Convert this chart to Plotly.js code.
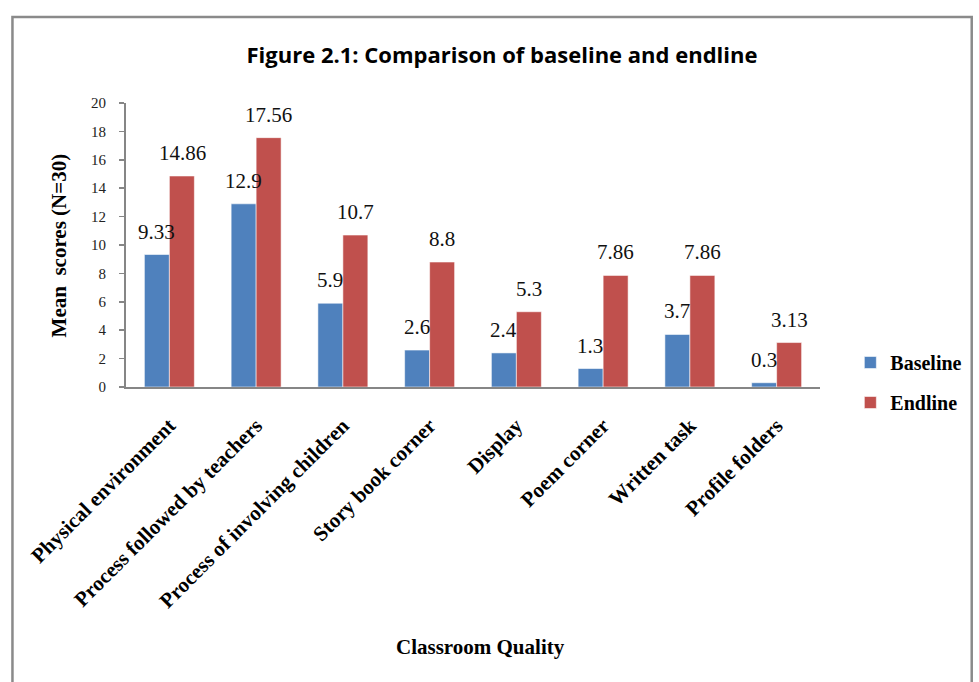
<!DOCTYPE html>
<html>
<head>
<meta charset="utf-8">
<script src="https://cdn.plot.ly/plotly-3.0.1.min.js"></script>
<style>
  html, body { margin: 0; padding: 0; background: #fff; }
  #chart { width: 979px; height: 682px; }
</style>
</head>
<body>
<div id="chart"></div>
<script>
// Classroom quality indicators and mean scores (N=30)
const categories = [
  "Physical environment",
  "Process followed by teachers",
  "Process of involving children",
  "Story book corner",
  "Display",
  "Poem corner",
  "Written task",
  "Profile folders"
];
const baseline = [9.33, 12.9, 5.9, 2.6, 2.4, 1.3, 3.7, 0.3];
const endline = [14.86, 17.56, 10.7, 8.8, 5.3, 7.86, 7.86, 3.13];
const yTicks = [0, 2, 4, 6, 8, 10, 12, 14, 16, 18, 20];

const serif = "Liberation Serif, Times New Roman, serif";
const blue = "#4F81BD";
const red = "#C0504D";

// Plot area in pixels
const W = 979, H = 682;
const L = 126, R = 144, T = 103, B = 295;
const plotW = W - L - R, plotH = H - T - B;
const bargap = 0.424;
const barPx = plotW / categories.length * (1 - bargap) / 2;

const traces = [
  {
    type: "bar", name: "Baseline", x: categories, y: baseline,
    marker: { color: blue, line: { color: "rgba(255,255,255,0.55)", width: 1 } },
    legendgroup: "b", hoverinfo: "skip"
  },
  {
    type: "bar", name: "Endline", x: categories, y: endline,
    marker: { color: red, line: { color: "rgba(255,255,255,0.55)", width: 1 } },
    legendgroup: "e", hoverinfo: "skip"
  }
];

// Value labels above each bar
const annotations = [];
categories.forEach((c, i) => {
  annotations.push({
    x: c, y: baseline[i], xref: "x", yref: "y", text: String(baseline[i]),
    showarrow: false, xshift: -barPx / 2, yshift: 9, yanchor: "bottom",
    font: { family: serif, size: 21, color: "#111" }
  });
  annotations.push({
    x: c, y: endline[i], xref: "x", yref: "y", text: String(endline[i]),
    showarrow: false, xshift: barPx / 2, yshift: 9, yanchor: "bottom",
    font: { family: serif, size: 21, color: "#111" }
  });
});

// Axis titles
annotations.push({
  xref: "paper", yref: "paper", x: (58 - L) / plotW, y: (H - B - 245) / plotH,
  text: "<b>Mean  scores (N=30)</b>", textangle: -90, showarrow: false,
  xanchor: "center", yanchor: "middle",
  font: { family: serif, size: 21, color: "#000" }
});
annotations.push({
  xref: "paper", yref: "paper", x: (488 - L) / plotW, y: -(647 - (H - B)) / plotH,
  text: "<b>Classroom Quality</b>", showarrow: false,
  xanchor: "center", yanchor: "middle",
  font: { family: serif, size: 21, color: "#000" }
});

const layout = {
  width: W, height: H,
  margin: { l: L, r: R, t: T, b: B },
  paper_bgcolor: "#fff", plot_bgcolor: "#fff",
  barmode: "group", bargap: bargap, bargroupgap: 0,
  title: {
    text: "<b>Figure 2.1: Comparison of baseline and endline</b>",
    xref: "container", yref: "container",
    x: 502 / W, y: 1 - 55 / H, xanchor: "center", yanchor: "middle",
    font: { family: "Open Sans, sans-serif", size: 22, color: "#000" }
  },
  xaxis: {
    type: "category", showgrid: false, zeroline: false,
    showline: true, linecolor: "#868686", linewidth: 2,
    ticks: "", tickangle: -45, ticklabelstandoff: 16,
    tickfont: { family: serif, size: 21, color: "#000", weight: "bold" }
  },
  yaxis: {
    range: [0, 20], tickvals: yTicks, showgrid: false, zeroline: false,
    showline: true, linecolor: "#868686", linewidth: 2,
    ticks: "outside", ticklen: 5, tickcolor: "#868686", tickwidth: 1.5,
    ticklabelstandoff: 10,
    tickfont: { family: serif, size: 15, color: "#222" }
  },
  legend: {
    x: (866 - L) / plotW, y: (H - B - 343) / plotH, xanchor: "left", yanchor: "top",
    traceorder: "grouped", tracegroupgap: 11,
    font: { family: serif, size: 20, color: "#000", weight: "bold" },
    itemwidth: 30, bgcolor: "rgba(0,0,0,0)"
  },
  showlegend: true,
  annotations: annotations,
  shapes: [{
    type: "rect", xref: "paper", yref: "paper",
    x0: (10 - L) / plotW, x1: (990 - L) / plotW,
    y0: -(700 - (H - B)) / plotH, y1: (H - B - 17) / plotH,
    line: { color: "#8a8a8a", width: 2.5 }, fillcolor: "rgba(0,0,0,0)", layer: "below"
  }]
};

Plotly.newPlot("chart", traces, layout, { displayModeBar: false, staticPlot: true });
</script>
</body>
</html>
